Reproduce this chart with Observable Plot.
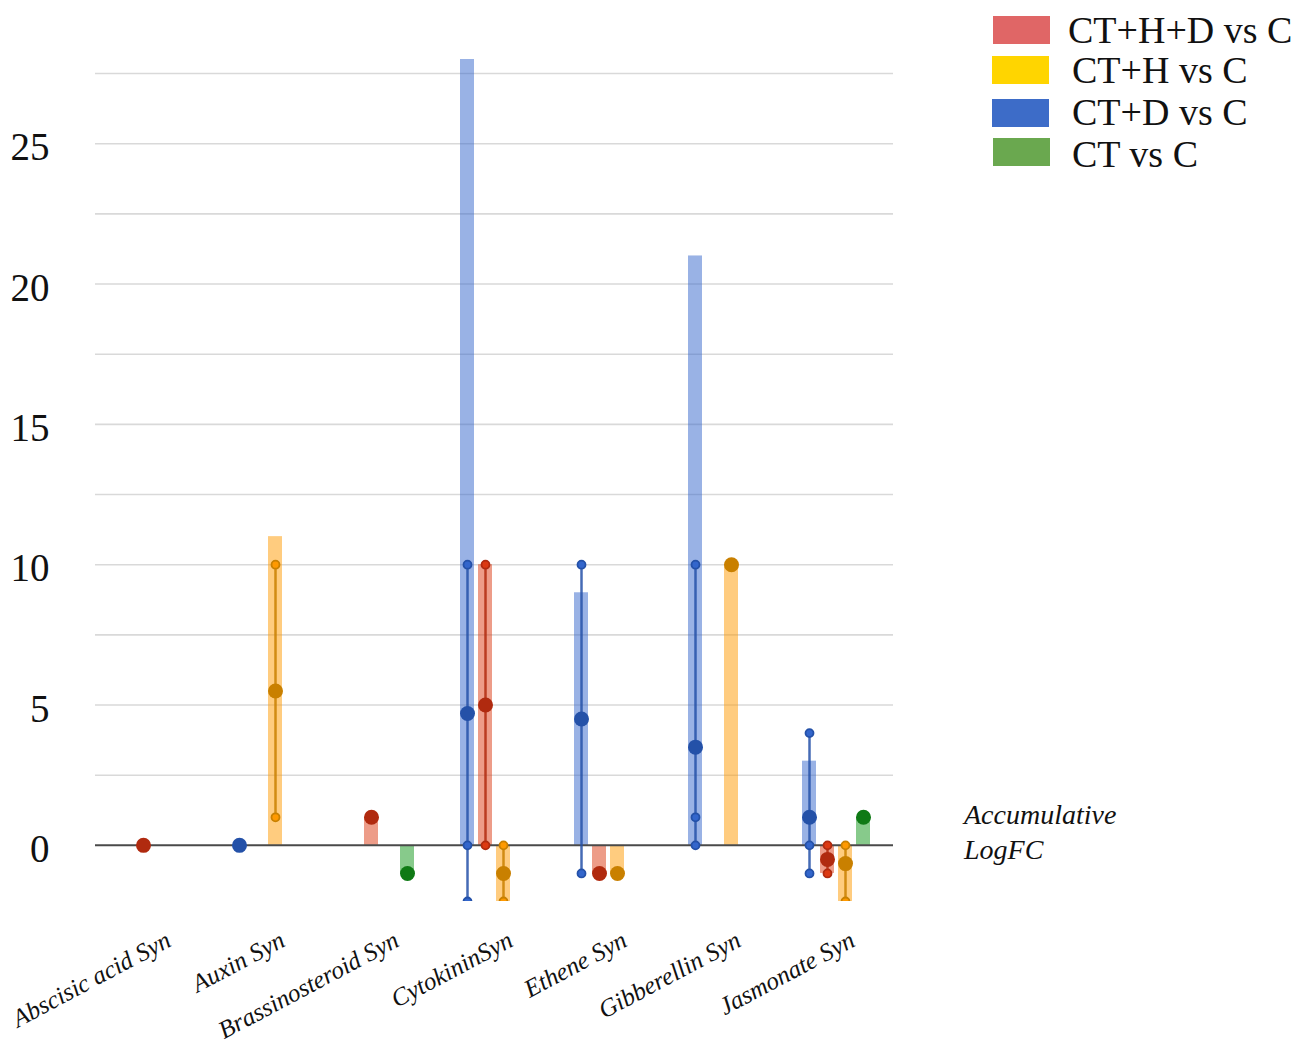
<!DOCTYPE html>
<html><head><meta charset="utf-8">
<script src="https://cdn.jsdelivr.net/npm/d3@7"></script>
<script src="https://cdn.jsdelivr.net/npm/@observablehq/plot@0.6"></script>
<style>
body{margin:0;background:#fff;}
#wrap{position:relative;width:1299px;height:1062px;overflow:hidden;}
#wrap svg{position:absolute;left:0;top:0;}
.lg{position:absolute;font-family:"Liberation Serif",serif;font-size:38px;line-height:38px;color:#111;white-space:nowrap;}
.sw{position:absolute;width:57px;height:28px;}
.note{position:absolute;left:964px;top:797px;font-family:"Liberation Serif",serif;font-style:italic;font-size:28px;line-height:35px;color:#111;}
</style></head><body><div id="wrap"></div>
<script>
// ---- data ----
const categories = ["Abscisic acid Syn","Auxin Syn","Brassinosteroid Syn","CytokininSyn","Ethene Syn","Gibberellin Syn","Jasmonate Syn"];
const slotOrder = ["CT+D vs C","CT+H+D vs C","CT+H vs C","CT vs C"];
const legendOrder = ["CT+H+D vs C","CT+H vs C","CT+D vs C","CT vs C"];
const yTicks = [0,5,10,15,20,25];
const gridValues = [2.5,5,7.5,10,12.5,15,17.5,20,22.5,25,27.5];

// CT+D vs C
const ctdBar    = [null, 0, null, 28, 9, 21, 3];
const ctdMean   = [null, 0, null, 4.7, 4.5, 3.5, 1];
const ctdLow    = [null, null, null, -2, -1, 0, -1];
const ctdHigh   = [null, null, null, 10, 10, 10, 4];
const ctdPoints = [[], [], [], [-2, 0, 10], [-1, 10], [0, 1, 10], [-1, 0, 4]];
// CT+H+D vs C
const cthdBar    = [0, null, 1, 10, -1, null, -1];
const cthdMean   = [0, null, 1, 5, -1, null, -0.5];
const cthdLow    = [null, null, null, 0, null, null, -1];
const cthdHigh   = [null, null, null, 10, null, null, 0];
const cthdPoints = [[], [], [], [0, 10], [], [], [-1, 0]];
// CT+H vs C
const cthBar    = [null, 11, null, -2, -1, 10, -2];
const cthMean   = [null, 5.5, null, -1, -1, 10, -0.65];
const cthLow    = [null, 1, null, -2, null, null, -2];
const cthHigh   = [null, 10, null, 0, null, null, 0];
const cthPoints = [[], [1, 10], [], [-2, 0], [], [], [-2, 0]];
// CT vs C
const ctBar    = [null, null, -1, null, null, null, 1];
const ctMean   = [null, null, -1, null, null, null, 1];
const ctLow    = [null, null, null, null, null, null, null];
const ctHigh   = [null, null, null, null, null, null, null];
const ctPoints = [[], [], [], [], [], [], []];

const legendColors = {"CT+H+D vs C":"#e06666","CT+H vs C":"#ffd500","CT+D vs C":"#3d6cc8","CT vs C":"#6aa84f"};
const baseColors = {"CT+D vs C":"#3366cc","CT+H+D vs C":"#dc3912","CT+H vs C":"#ff9900","CT vs C":"#109618"};
const darkColors = {"CT+D vs C":"#2451a8","CT+H+D vs C":"#b02a0f","CT+H vs C":"#c98000","CT vs C":"#0f7a15"};

const seriesData = [
  {name:"CT+D vs C", bar:ctdBar, mean:ctdMean, low:ctdLow, high:ctdHigh, pts:ctdPoints},
  {name:"CT+H+D vs C", bar:cthdBar, mean:cthdMean, low:cthdLow, high:cthdHigh, pts:cthdPoints},
  {name:"CT+H vs C", bar:cthBar, mean:cthMean, low:cthLow, high:cthHigh, pts:cthPoints},
  {name:"CT vs C", bar:ctBar, mean:ctMean, low:ctLow, high:ctHigh, pts:ctPoints}
];

const bars=[], means=[], ranges=[], pts=[];
for (const s of seriesData) {
  categories.forEach((c,i)=>{
    if (s.bar[i]!=null) bars.push({cat:c, series:s.name, value:s.bar[i]});
    if (s.mean[i]!=null) means.push({cat:c, series:s.name, value:s.mean[i]});
    if (s.low[i]!=null) ranges.push({cat:c, series:s.name, low:s.low[i], high:s.high[i]});
    for (const p of s.pts[i]) pts.push({cat:c, series:s.name, value:p});
  });
}

const font = "Liberation Serif, Times New Roman, serif";
const marks = [
  Plot.ruleY(gridValues, {stroke:"#d9d9d9", strokeWidth:1.6}),
];
for (const s of slotOrder) {
  marks.push(Plot.barY(bars.filter(d=>d.series===s), {fx:"cat", x:"series", y:"value", fill:baseColors[s], fillOpacity:0.5, clip:true}));
}
marks.push(Plot.ruleY([0], {stroke:"#4a4a4a", strokeWidth:2}));
for (const s of slotOrder) {
  marks.push(Plot.ruleX(ranges.filter(d=>d.series===s), {fx:"cat", x:"series", y1:"low", y2:"high", stroke:darkColors[s], strokeOpacity:0.85, strokeWidth:2.5, clip:true}));
  marks.push(Plot.dot(pts.filter(d=>d.series===s), {fx:"cat", x:"series", y:"value", r:4, fill:baseColors[s], stroke:darkColors[s], strokeWidth:1.8, clip:true}));
  marks.push(Plot.dot(means.filter(d=>d.series===s), {fx:"cat", x:"series", y:"value", r:7.5, fill:darkColors[s], clip:true}));
}
marks.push(Plot.axisY(yTicks, {tickSize:0, tickPadding:46, dy:4, fontSize:39, fontFamily:font, fill:"#111", label:null}));
marks.push(Plot.text(categories, {fx:d=>d, text:d=>d, frameAnchor:"bottom", dx:20, dy:44, rotate:-28, textAnchor:"end", fontSize:25, fontStyle:"italic", fontFamily:font, fill:"#111"}));

const chart = Plot.plot({
  width:1299, height:1062,
  marginLeft:93, marginRight:404, marginTop:59, marginBottom:161,
  fx:{domain:categories, padding:0, axis:null, label:null},
  x:{domain:slotOrder, paddingInner:0.2, paddingOuter:1.2, axis:null},
  y:{domain:[-2,28], axis:null},
  style:{background:"#fff", overflow:"visible"},
  marks
});
const wrap = document.getElementById("wrap");
wrap.appendChild(chart);

// legend
const swPos = [[993,16],[992,56],[992,99],[993,138]];
const txtPos = [[1068,11],[1072,51],[1072,93],[1072,135]];
legendOrder.forEach((n,i)=>{
  const sw = document.createElement("div");
  sw.className="sw"; sw.style.left=swPos[i][0]+"px"; sw.style.top=swPos[i][1]+"px";
  sw.style.background=legendColors[n];
  wrap.appendChild(sw);
  const t = document.createElement("div");
  t.className="lg"; t.style.left=txtPos[i][0]+"px"; t.style.top=txtPos[i][1]+"px";
  t.textContent=n;
  wrap.appendChild(t);
});
const note = document.createElement("div");
note.className="note"; note.innerHTML="Accumulative<br>LogFC";
wrap.appendChild(note);
</script></body></html>
